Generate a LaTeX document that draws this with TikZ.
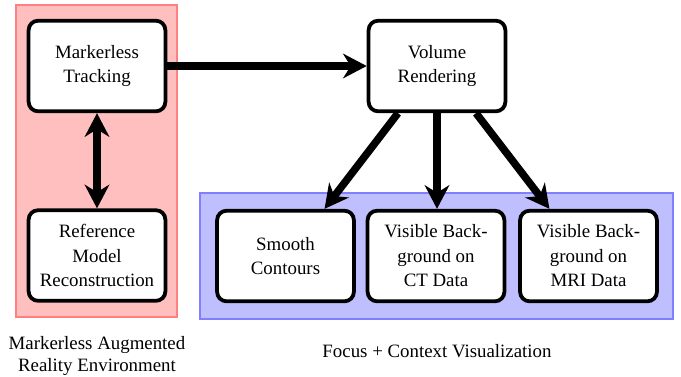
\documentclass[tikz,border=0pt]{standalone}
\usepackage{fontspec}
\setmainfont{LiberationSerif-Regular.ttf}[BoldFont=LiberationSerif-Bold.ttf]
\usetikzlibrary{arrows.meta}
\tikzset{
  stepbox/.style={draw=black, line width=2pt, rounded corners=5pt, fill=white,
    minimum width=72.5pt, minimum height=48pt, align=center,
    font=\fontsize{10}{13}\selectfont, inner sep=2pt},
  groupbox/.style={line width=0.8pt},
  flow/.style={line width=4pt, -{Stealth[length=12.5pt,width=13pt,inset=4pt]}},
  both/.style={line width=4pt, {Stealth[length=12.5pt,width=13pt,inset=4pt]}-{Stealth[length=12.5pt,width=13pt,inset=4pt]}},
  caption/.style={align=center, font=\fontsize{10}{11.3}\selectfont}
}
\begin{document}
\begin{tikzpicture}[x=0.53pt, y=-0.53pt]
\useasboundingbox (0,0) rectangle (681,376);
% group backgrounds
\draw[groupbox, draw=red!50, fill=red!25] (16,5) rectangle (177,317);
\draw[groupbox, draw=blue!50, fill=blue!25] (200,193) rectangle (673,319);
% process steps
\node[stepbox] (track) at (97,66) {Markerless\\Tracking};
\node[stepbox] (recon) at (97,255.5) {Reference\\Model\\Reconstruction};
\node[stepbox] (vr) at (437,66) {Volume\\Rendering};
\node[stepbox] (smooth) at (285.5,256) {Smooth\\Contours};
\node[stepbox] (ct) at (436,256) {Visible Back-\\ground on\\CT Data};
\node[stepbox] (mri) at (588.5,256) {Visible Back-\\ground on\\MRI Data};
% group captions
\node[caption] (capL) at (97,356) {Markerless Augmented\\Reality Environment};
\node[caption] (capR) at (437,351) {Focus + Context Visualization};
% connectors
\draw[both] (track.south) -- (recon.north);
\draw[flow] (track.east) -- (vr.west);
\draw[flow] ([xshift=-20.7pt]vr.south) -- ([xshift=20.7pt]smooth.north);
\draw[flow] (vr.south) -- (vr.south |- ct.north);
\draw[flow] ([xshift=20.7pt]vr.south) -- ([xshift=-20.7pt]mri.north);
\end{tikzpicture}
\end{document}
